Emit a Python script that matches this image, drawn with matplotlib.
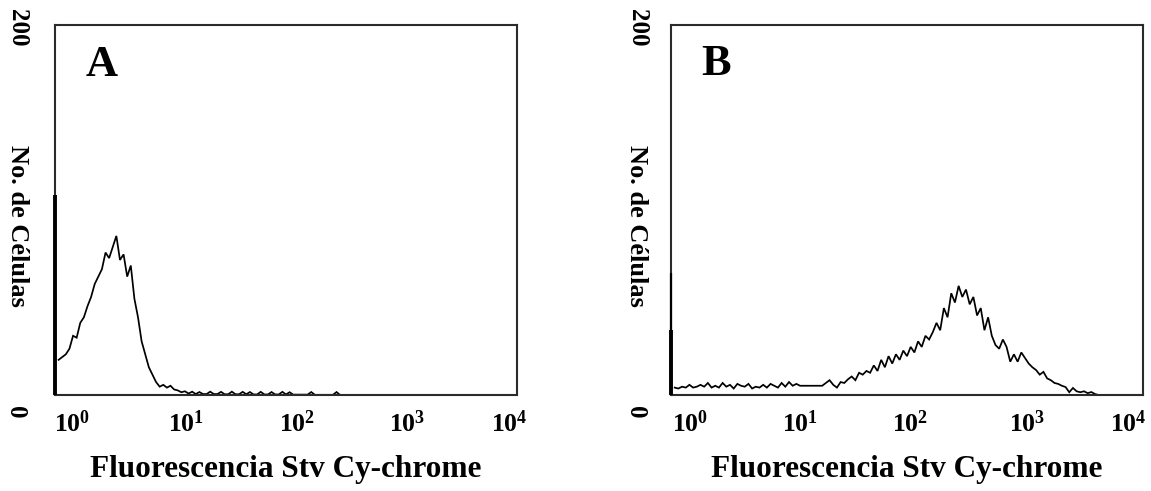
import numpy as np
import matplotlib
matplotlib.use("Agg")
import matplotlib.pyplot as plt
from matplotlib.transforms import ScaledTranslation, blended_transform_factory

plt.rcParams['font.family'] = ['Liberation Serif', 'DejaVu Serif']
plt.rcParams['mathtext.fontset'] = 'custom'
plt.rcParams['mathtext.rm'] = 'Liberation Serif'
plt.rcParams['mathtext.bf'] = 'Liberation Serif:bold'
plt.rcParams['mathtext.it'] = 'Liberation Serif:italic'

# ---------------- data ----------------
CHANNELS_PER_DECADE = 32
x_label = "Fluorescencia Stv Cy-chrome"
y_label = "No. de Células"
y_ticks = [0, 200]
decades = [0, 1, 2, 3, 4]
panel_letters = ["A", "B"]

# first-channel pile-up (events at the axis minimum)
spike_A = [108]
spike_B = [66, 35]

# counts per channel, channel k sits at 10**(k/32); channel 0 is the pile-up
counts_A = [108, 19, 20.5, 22, 25, 32, 31, 39, 42, 48, 53, 60, 64, 68, 77, 74, 80, 86,
            73, 76, 64, 70, 52, 42, 29, 22, 15, 11, 7, 4.5, 5.5, 4, 5, 3, 2.5, 1.5,
            2, 0.8, 1.8, 0.5, 1.6, 0.5, 0.5, 1.8, 0.5, 0.5, 1.7, 0.4, 0.4, 1.8, 0.4,
            0.4, 1.7, 0.4, 1.6, 0.3, 0.3, 1.7, 0.3, 0.3, 1.6, 0.3, 0.3, 1.7, 0.3, 1.5,
            0.2, 0.2, 0.2, 0.2, 0.2, 1.6, 0.1, 0.1, 0.1, 0.1, 0.1, 0.1, 1.6, 0, 0, 0,
            0, 0, 0, 0, 0]

counts_B = [66, 4, 3.5, 4.5, 4, 5.5, 4, 4.5, 5.5, 4.5, 6.5, 4, 5, 4, 6.5, 4.5, 5.5,
            3.5, 6, 5, 4.5, 6, 3.5, 4.5, 4, 5.5, 4, 6, 5, 4, 6.5, 4.5, 7, 5, 6, 5, 5,
            5, 5, 5, 5, 5, 6.5, 8, 5.5, 4, 7, 6.5, 8.5, 10, 8, 12, 11, 13, 12,
            16, 13, 19, 15, 21, 17, 22, 19, 24, 21, 26, 23, 29, 26, 32, 30, 34, 39,
            35, 47, 42, 55, 50, 59, 53, 57, 49, 53, 43, 47, 35, 42, 32, 27, 25, 30,
            26, 18, 22, 18, 23, 20, 17, 15, 13.5, 11, 12.5, 9, 8, 6.5, 6, 5, 4.3,
            1.5, 3.8, 2, 1.5, 2, 1, 1.6, 0.5, 0, 0, 0, 0, 0, 0, 0, 0, 0, 0, 0, 0]

# ---------------- style / layout ----------------
W, H = 1151, 491
fig = plt.figure(figsize=(W / 100, H / 100), dpi=100)
boxes = [(55, 517), (671, 1143)]
top_px, bot_px = 25, 395
# pixel offsets of decade labels (hand-set in the original figure)
xlab_dx = [[17, 16, 11, 6, -8], [19, 11, 3, 2, -15]]
ylab_dx = [-38, -34]
letter_pos = [(0.10, 0.892), (0.095, 0.895)]

panels = [(counts_A, spike_A), (counts_B, spike_B)]
spine_col = "#2b2b2b"

for i, ((l, r), (counts, spike)) in enumerate(zip(boxes, panels)):
    ax = fig.add_axes([l / W, (H - bot_px) / H, (r - l) / W, (bot_px - top_px) / H])
    ax.set_xscale("log")
    ax.set_xlim(10 ** decades[0], 10 ** decades[-1])
    ax.set_ylim(y_ticks[0], y_ticks[-1])
    for s in ax.spines.values():
        s.set_linewidth(1.5)
        s.set_color(spine_col)
    ax.set_xticks([])
    ax.set_yticks([])
    ax.minorticks_off()

    k = np.arange(len(counts))
    x = 10 ** (k / CHANNELS_PER_DECADE)
    ax.plot(x[1:], counts[1:], color="black", lw=1.25, solid_joinstyle="miter")
    # pile-up channel drawn as vertical bars
    ax.vlines(x[0], 0, spike[0], color="black", lw=1.6 if len(spike) > 1 else 2.8,
              clip_on=False, zorder=3)
    if len(spike) > 1:
        ax.vlines(x[0], 0, spike[1], color="black", lw=2.8, clip_on=False, zorder=3)

    # decade labels
    tx = blended_transform_factory(ax.transData, ax.transAxes)
    for d, dx in zip(decades, xlab_dx[i]):
        ax.text(10 ** d, 0, r"$\mathbf{10^{%d}}$" % d, fontsize=18.5,
                ha="center", va="center",
                transform=tx + ScaledTranslation(dx / 100, -29 / 100, fig.dpi_scale_trans))

    # y labels (rotated)
    ty = blended_transform_factory(ax.transAxes, ax.transData)
    ax.text(0, y_ticks[-1], str(y_ticks[-1]), rotation=270, fontsize=18, fontweight="bold",
            ha="center", va="center",
            transform=ty + ScaledTranslation(ylab_dx[i] / 100, -3 / 100, fig.dpi_scale_trans))
    ax.text(0, y_ticks[0], str(y_ticks[0]), rotation=270, fontsize=18, fontweight="bold",
            ha="center", va="center",
            transform=ty + ScaledTranslation((ylab_dx[i] - 2) / 100, -17 / 100, fig.dpi_scale_trans))
    ax.text(0, 0.457, y_label, rotation=270, fontsize=19, fontweight="bold",
            ha="center", va="center",
            transform=ax.transAxes + ScaledTranslation(ylab_dx[i] / 100, 0, fig.dpi_scale_trans))

    ax.text(0.5, 0, x_label, fontsize=22.5, fontweight="bold", ha="center", va="center",
            transform=ax.transAxes + ScaledTranslation(0, -75 / 100, fig.dpi_scale_trans))

    ax.text(letter_pos[i][0], letter_pos[i][1], panel_letters[i], fontsize=32,
            fontweight="bold", ha="center", va="center", transform=ax.transAxes)

fig.savefig("out.png", dpi=100)
